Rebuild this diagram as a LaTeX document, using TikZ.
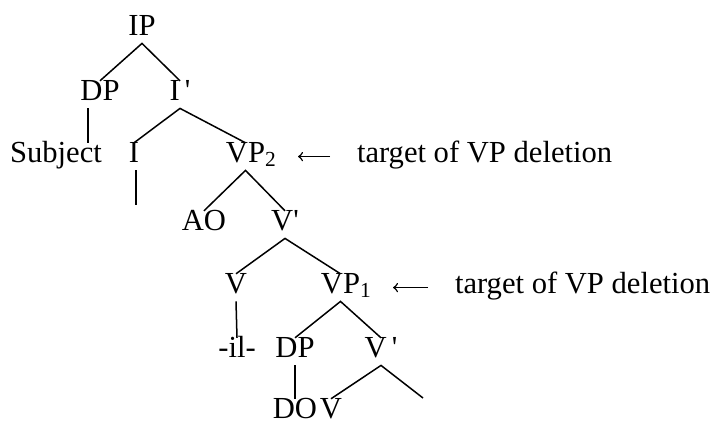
\documentclass[tikz,border=0pt]{standalone}
\usepackage{fontspec}
\setmainfont{Liberation Serif}
\begin{document}
\begin{tikzpicture}[x=0.5pt,y=-0.5pt,
	cat/.style={anchor=base,inner sep=0,outer xsep=0,outer ysep=3pt,text height=0.66em,text depth=0.12em,font=\fontsize{15.3}{18}\selectfont},
	note/.style={anchor=base west,inner sep=0,outer sep=0,text height=0.66em,text depth=0.12em,font=\fontsize{15.3}{18}\selectfont},
	branch/.style={line width=0.75pt},
	pointer/.style={line width=0.75pt,->,shorten <=13.5pt,shorten >=16.5pt}]
	\useasboundingbox (0,0) rectangle (712,424);
	\node[cat] (ip) at (142,35) {IP};
	\node[cat] (dp1) at (100,100) {DP};
	\node[cat] (ibar) at (180,100) {I\,\textquotesingle};
	\node[cat] (subj) at (56,162) {Subject};
	\node[cat] (i) at (134,162) {I};
	\node[cat] (vp2) at (245.5,162) {VP\rlap{\textsubscript{2}}};
	\node[note] (tgt2) at (357,162) {target of VP deletion};
	\node[cat] (ao) at (204,230) {AO};
	\node[cat] (vbar1) at (285,230) {V\textquotesingle};
	\node[cat] (v1) at (236,293) {V};
	\node[cat] (vp1) at (340.5,293) {VP\rlap{\textsubscript{1}}};
	\node[note] (tgt1) at (455,293) {target of VP deletion};
	\node[cat] (il) at (237,357) {-il-};
	\node[cat] (dp2) at (295,357) {DP};
	\node[cat] (vbar2) at (381,357) {V\,\textquotesingle};
	\node[cat] (do) at (295,418) {DO};
	\node[cat] (v2) at (331,418) {V};
	\coordinate (ilow) at (136,205);
	\coordinate (vbar2r) at (423,398);
	\draw[branch] (dp1.north) -- (ip.south) -- (ibar.north);
	\draw[branch] ([xshift=-6pt]dp1.south) -- ([xshift=-6pt]dp1.south |- subj.north);
	\draw[branch] (i.north) -- (ibar.south) -- (vp2.north);
	\draw[branch] ([xshift=1pt]i.south) -- (ilow);
	\draw[branch] (ao.north) -- (vp2.south) -- (vbar1.north);
	\draw[branch] (v1.north) -- (vbar1.south) -- (vp1.north);
	\draw[branch] (v1.south) -- (il.north);
	\draw[branch] (dp2.north) -- (vp1.south) -- (vbar2.north);
	\draw[branch] (dp2.south) -- (do.north);
	\draw[branch] (v2.north) -- (vbar2.south) -- (vbar2r);
	\draw[pointer] (tgt2.west) -- (vp2.east);
	\draw[pointer] (tgt1.west) -- (vp1.east);
\end{tikzpicture}
\end{document}
